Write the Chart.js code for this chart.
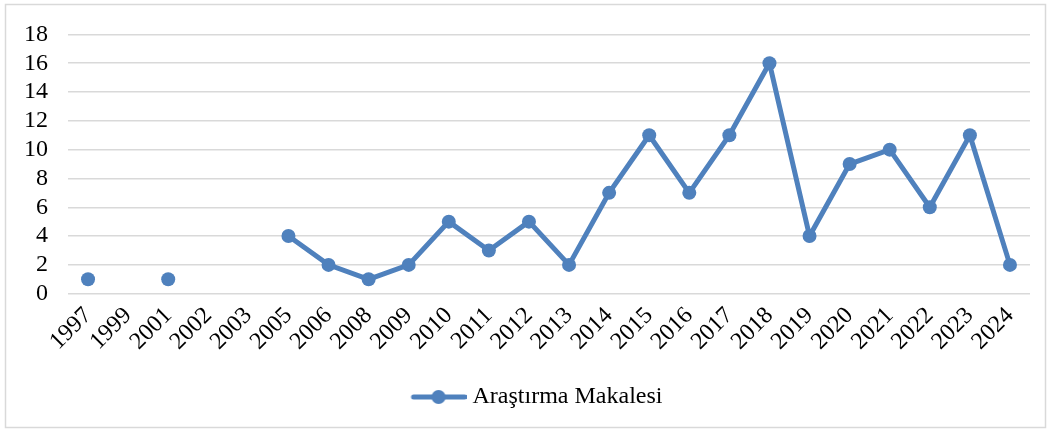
<!DOCTYPE html>
<html>
<head>
<meta charset="utf-8">
<script src="https://cdn.jsdelivr.net/npm/chart.js@4/dist/chart.umd.min.js"></script>
<style>
  html, body { margin: 0; padding: 0; background: #fff; }
  #wrap { position: relative; width: 1050px; height: 432px; }
</style>
</head>
<body>
<div id="wrap"><canvas id="chart" width="1050" height="432"></canvas></div>
<script>
const years = ['1997', '1999', '2001', '2002', '2003', '2005', '2006', '2008', '2009', '2010', '2011', '2012',
  '2013', '2014', '2015', '2016', '2017', '2018', '2019', '2020', '2021', '2022', '2023', '2024'];
const articles = [1, null, 1, null, null, 4, 2, 1, 2, 5, 3, 5, 2, 7, 11, 7, 11, 16, 4, 9, 10, 6, 11, 2];
const seriesName = 'Araştırma Makalesi';
const yMax = 18;
const yStep = 2;

const blue = '#4f81bd';
const font = { family: '"Liberation Serif", "Times New Roman", serif', size: 24 };

// legend marker: line with a dot, drawn at the right of a wider transparent image
// so the legend sits where the office one does
const marker = document.createElement('canvas');
marker.width = 105;
marker.height = 16;
const mctx = marker.getContext('2d');
mctx.strokeStyle = blue;
mctx.lineWidth = 5;
mctx.lineCap = 'round';
mctx.beginPath();
mctx.moveTo(52, 8);
mctx.lineTo(103, 8);
mctx.stroke();
mctx.fillStyle = blue;
mctx.beginPath();
mctx.arc(77, 8, 7, 0, Math.PI * 2);
mctx.fill();

const frame = {
  id: 'frame',
  beforeDraw(chart) {
    const c = chart.ctx;
    c.save();
    c.fillStyle = '#fff';
    c.fillRect(0, 0, chart.width, chart.height);
    c.strokeStyle = '#d9d9d9';
    c.lineWidth = 1.5;
    c.strokeRect(5.5, 4.5, 1040, 423);
    c.restore();
  }
};

new Chart(document.getElementById('chart'), {
  type: 'line',
  data: {
    labels: years,
    datasets: [{
      label: seriesName,
      data: articles,
      borderColor: blue,
      backgroundColor: blue,
      borderWidth: 5,
      pointRadius: 7,
      pointHoverRadius: 7,
      pointBackgroundColor: blue,
      pointBorderWidth: 0,
      spanGaps: false,
      tension: 0
    }]
  },
  options: {
    responsive: false,
    animation: false,
    devicePixelRatio: 1,
    layout: { padding: { top: 21, right: 20, bottom: 13, left: 0 } },
    plugins: {
      tooltip: { enabled: false },
      legend: {
        position: 'bottom',
        labels: {
          usePointStyle: true,
          pointStyle: marker,
          pointStyleWidth: 93,
          color: '#000',
          font: font,
          padding: 10
        }
      }
    },
    scales: {
      x: {
        offset: true,
        afterFit(scale) { scale.height += 19; },
        grid: { display: false },
        border: { display: false },
        ticks: {
          color: '#000',
          font: font,
          minRotation: 45,
          maxRotation: 45,
          autoSkip: false,
          padding: 0
        }
      },
      y: {
        min: 0,
        max: yMax,
        afterFit(scale) { scale.width = 68; },
        grid: { color: '#d9d9d9', lineWidth: 1.5, drawTicks: false },
        border: { display: false },
        ticks: {
          stepSize: yStep,
          autoSkip: false,
          color: '#000',
          font: font,
          padding: 20
        }
      }
    }
  },
  plugins: [frame]
});
</script>
</body>
</html>
